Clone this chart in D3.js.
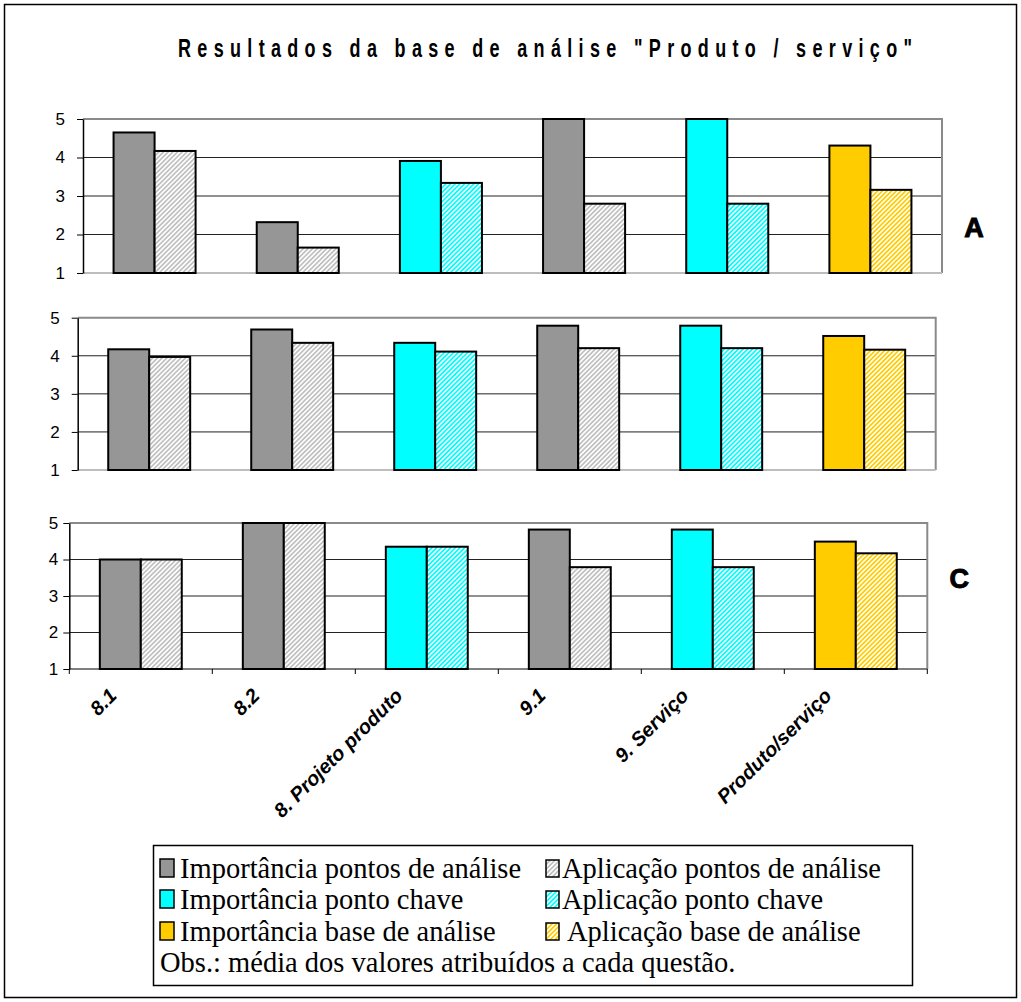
<!DOCTYPE html>
<html>
<head>
<meta charset="utf-8">
<script src="https://cdn.jsdelivr.net/npm/d3@7"></script>
<style>
  html, body { margin: 0; padding: 0; background: #fff; }
  svg { display: block; }
</style>
</head>
<body>
<svg id="chart" width="1021" height="1002"></svg>
<script>
// Categories (questions) shown on the shared x axis
const categories = ["8.1", "8.2", "8. Projeto produto", "9.1", "9. Serviço", "Produto/serviço"];
// Which legend family each category belongs to
const categoryKind = ["pontos", "pontos", "chave", "pontos", "chave", "base"];

// Panel A averages
const importanciaA = [4.65, 2.32, 3.91, 5.0, 5.0, 4.31];
const aplicacaoA   = [4.17, 1.66, 3.34, 2.8, 2.8, 3.16];
// Panel B averages
const importanciaB = [4.17, 4.69, 4.34, 4.79, 4.79, 4.52];
const aplicacaoB   = [3.97, 4.34, 4.11, 4.2, 4.2, 4.16];
// Panel C averages
const importanciaC = [4.0, 5.0, 4.35, 4.82, 4.82, 4.49];
const aplicacaoC   = [4.0, 5.0, 4.35, 3.79, 3.79, 4.17];

const yTicks = [1, 2, 3, 4, 5];

const legendRows = [
  ["Importância pontos de análise", "Aplicação pontos de análise"],
  ["Importância ponto chave", "Aplicação ponto chave"],
  ["Importância base de análise", "Aplicação base de análise"]
];
const legendNote = "Obs.: média dos valores atribuídos a cada questão.";
const titleText = "Resultados da base de análise \"Produto / serviço\"";

// Fill colours per family
const solidColor = { pontos: "#969696", chave: "#00ffff", base: "#ffcc00" };
const hatchColor = { pontos: "#c0c0c0", chave: "#00ffff", base: "#ffcc00" };
const kinds = ["pontos", "chave", "base"];

const svg = d3.select("#chart");

// Diagonal hatch patterns for the "Aplicação" series
const defs = svg.append("defs");
kinds.forEach(k => {
  const p = defs.append("pattern")
    .attr("id", "hatch-" + k)
    .attr("patternUnits", "userSpaceOnUse")
    .attr("width", 3.3).attr("height", 3.3)
    .attr("patternTransform", "rotate(45)");
  p.append("rect").attr("width", 3.3).attr("height", 3.3).attr("fill", "#fff");
  p.append("rect").attr("width", 1.7).attr("height", 3.3).attr("fill", hatchColor[k]);
});

// Outer frame
svg.append("rect")
  .attr("x", 4.5).attr("y", 4.5).attr("width", 1012).attr("height", 993)
  .attr("fill", "#fff").attr("stroke", "#000").attr("stroke-width", 1.5);

// Title (condensed bold face, spread across the chart width)
const titleScale = 0.72;
svg.append("text")
  .attr("transform", `translate(178,57) scale(${titleScale},1)`)
  .attr("x", 0).attr("y", 0)
  .attr("textLength", 734 / titleScale).attr("lengthAdjust", "spacing")
  .attr("font-family", "Liberation Sans, Arial, sans-serif")
  .attr("font-weight", "bold").attr("font-size", 25)
  .text(titleText);

const panels = [
  { imp: importanciaA, apl: aplicacaoA, left: 83,   right: 942,   top: 119,   bottom: 273, pad: 12, letter: "A", letterY: 237, xAxis: false },
  { imp: importanciaB, apl: aplicacaoB, left: 77.7, right: 935.7, top: 317.7, bottom: 470, pad: 12, letter: null, letterY: 0, xAxis: false },
  { imp: importanciaC, apl: aplicacaoC, left: 69.3, right: 927.3, top: 523,   bottom: 669, pad: 5,  letter: "C", letterY: 588, xAxis: true }
];

panels.forEach(p => {
  const g = svg.append("g");
  const x = d3.scaleBand().domain(categories).range([p.left, p.right])
    .paddingInner(0.427).paddingOuter(0.2135);
  const x1 = d3.scaleBand().domain(["imp", "apl"]).range([0, x.bandwidth()]);
  const y = d3.scaleLinear().domain([1, 5]).range([p.bottom, p.top]);

  // Horizontal gridlines
  g.append("g").selectAll("line").data(yTicks.filter(v => v > 1 && v < 5)).join("line")
    .attr("x1", p.left).attr("x2", p.right)
    .attr("y1", d => y(d)).attr("y2", d => y(d))
    .attr("stroke", "#222").attr("stroke-width", 1);

  // Plot-area border (top, right, bottom)
  g.append("path")
    .attr("d", `M${p.left},${y(5)}H${p.right}V${y(1)}`)
    .attr("fill", "none").attr("stroke", "#8a8a8a").attr("stroke-width", 2);
  g.append("line")
    .attr("x1", p.left).attr("x2", p.right).attr("y1", y(1)).attr("y2", y(1))
    .attr("stroke", p.xAxis ? "#555" : "#bdbdbd").attr("stroke-width", p.xAxis ? 1.5 : 2);

  // Bars
  const rows = categories.map((c, i) => ({ c, kind: categoryKind[i], imp: p.imp[i], apl: p.apl[i] }));
  const grp = g.append("g").selectAll("g").data(rows).join("g")
    .attr("transform", d => `translate(${x(d.c)},0)`);
  grp.append("rect")
    .attr("x", x1("imp")).attr("width", x1.bandwidth())
    .attr("y", d => y(d.imp)).attr("height", d => y(1) - y(d.imp))
    .attr("fill", d => solidColor[d.kind])
    .attr("stroke", "#000").attr("stroke-width", 2);
  grp.append("rect")
    .attr("x", x1("apl")).attr("width", x1.bandwidth())
    .attr("y", d => y(d.apl)).attr("height", d => y(1) - y(d.apl))
    .attr("fill", d => `url(#hatch-${d.kind})`)
    .attr("stroke", "#000").attr("stroke-width", 2);

  // Y axis
  const ya = g.append("g").attr("transform", `translate(${p.left},0)`)
    .call(d3.axisLeft(y).tickValues(yTicks).tickFormat(d3.format("d"))
      .tickSize(6).tickSizeOuter(0).tickPadding(p.pad));
  ya.select(".domain").attr("stroke", "#000").attr("stroke-width", 1.5);
  ya.selectAll(".tick line").attr("stroke", "#000").attr("stroke-width", 1);
  ya.selectAll(".tick text")
    .attr("font-family", "Liberation Sans, Arial, sans-serif")
    .attr("font-size", 17).attr("fill", "#000");

  // Category axis with boundary ticks and slanted labels
  if (p.xAxis) {
    const bounds = d3.range(categories.length + 1).map(i => p.left + i * x.step());
    g.append("g").selectAll("line").data(bounds).join("line")
      .attr("x1", d => d).attr("x2", d => d)
      .attr("y1", y(1)).attr("y2", y(1) + 5)
      .attr("stroke", "#000").attr("stroke-width", 1);
    g.append("g").selectAll("text").data(categories).join("text")
      .attr("transform", d => `translate(${x(d) + x.bandwidth() / 2 - 23},${y(1) + 28}) rotate(-45)`)
      .attr("text-anchor", "end")
      .attr("font-family", "Liberation Sans, Arial, sans-serif")
      .attr("font-weight", "bold").attr("font-style", "italic")
      .attr("font-size", 20).attr("fill", "#000")
      .text(d => d);
  }

  if (p.letter) {
    svg.append("text")
      .attr("x", p.right + 32).attr("y", p.letterY)
      .attr("text-anchor", "middle")
      .attr("font-family", "Liberation Sans, Arial, sans-serif")
      .attr("font-weight", "bold").attr("font-size", 27)
      .attr("stroke", "#000").attr("stroke-width", 1)
      .text(p.letter);
  }
});

// Legend
const lg = svg.append("g");
lg.append("rect")
  .attr("x", 153.5).attr("y", 845.5).attr("width", 759).attr("height", 140)
  .attr("fill", "#fff").attr("stroke", "#000").attr("stroke-width", 1.5);

const legendFont = "Liberation Serif, Times New Roman, serif";
const rowBase = [878, 909, 941];
legendRows.forEach((row, i) => {
  const k = kinds[i];
  const b = rowBase[i];
  lg.append("rect")
    .attr("x", 160).attr("y", b - 19).attr("width", 14).attr("height", 18)
    .attr("fill", solidColor[k]).attr("stroke", "#000").attr("stroke-width", 1.5);
  lg.append("text")
    .attr("x", 180).attr("y", b)
    .attr("font-family", legendFont)
    .attr("font-size", 28.5).text(row[0]);
  lg.append("rect")
    .attr("x", 546).attr("y", b - 18).attr("width", 13).attr("height", 17)
    .attr("fill", `url(#hatch-${k})`).attr("stroke", "#000").attr("stroke-width", 1.5);
  lg.append("text")
    .attr("x", i === 2 ? 567 : 562).attr("y", b)
    .attr("font-family", legendFont)
    .attr("font-size", 28.5).text(row[1]);
});
lg.append("text")
  .attr("x", 160).attr("y", 972)
  .attr("font-family", legendFont)
  .attr("font-size", 28.5).text(legendNote);
</script>
</body>
</html>
